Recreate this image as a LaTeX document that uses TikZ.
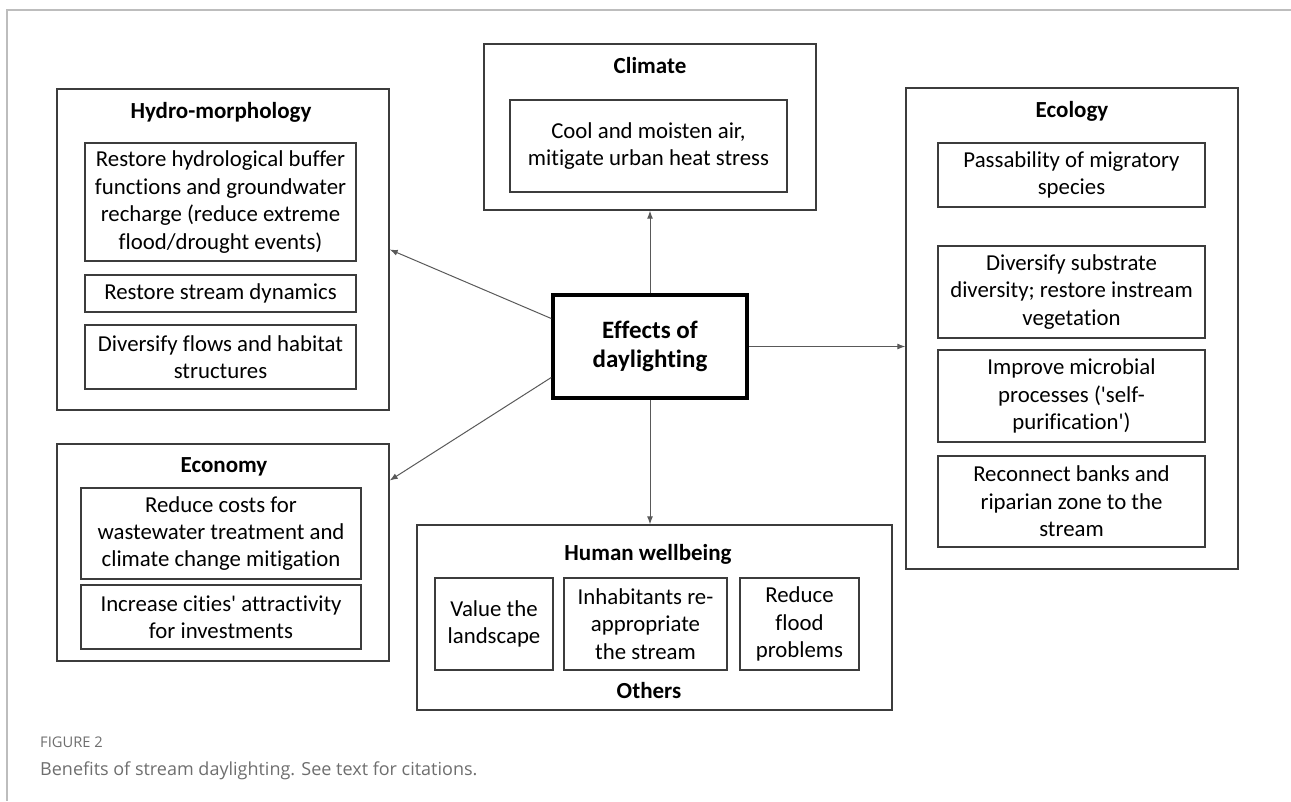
\documentclass[tikz,border=0pt]{standalone}
\usepackage{fontspec}
\setmainfont{Carlito}[Ligatures={TeXOff,NoCommon}]
\newfontfamily\captionfont{Open Sans}
\usetikzlibrary{arrows.meta}
\definecolor{linegray}{HTML}{3C3C3C}
\definecolor{framegray}{HTML}{BDBDBD}
\definecolor{captiongray}{HTML}{6E6E6E}

\begin{document}
\begin{tikzpicture}[x=1pt, y=-1pt,
    group/.style = {draw=linegray, line width=1.4pt},
    item/.style = {draw=linegray, line width=1.2pt, align=center, inner sep=0pt,
                   font=\fontsize{22.8}{27.4}\selectfont},
    head/.style = {anchor=base, inner sep=0pt, font=\fontsize{23}{27.4}\selectfont\bfseries},
    link/.style = {draw=linegray!85, line width=1pt, -{Latex[length=8pt,width=6pt]}},
    capt/.style = {anchor=base west, inner sep=0pt, text=captiongray}]
    \useasboundingbox (0,0) rectangle (1291,801);
    \draw[framegray, line width=1.3pt] (1291,10) -- (7,10) -- (7,801);

    \node[group, minimum width=332pt, minimum height=166pt] (climate) at (650,127) {};
    \node[head] (climatetitle) at (650,73) {Climate};
    \node[item, minimum width=277pt, minimum height=92pt] (climate1) at (648.5,146) {Cool and moisten air,\\mitigate urban heat stress};

    \node[group, minimum width=332pt, minimum height=321pt] (hydro) at (223,249.5) {};
    \node[head] (hydrotitle) at (221,118) {Hydro-morphology};
    \node[item, minimum width=271pt, minimum height=118pt] (hydro1) at (220.5,202) {Restore hydrological buffer\\functions and groundwater\\recharge (reduce extreme\\flood/drought events)};
    \node[item, minimum width=271pt, minimum height=37pt] (hydro2) at (220.5,293.5) {Restore stream dynamics};
    \node[item, minimum width=271pt, minimum height=64pt] (hydro3) at (220.5,357) {Diversify flows and habitat\\structures};

    \node[group, minimum width=332pt, minimum height=217pt] (economy) at (223,552.5) {};
    \node[head] (economytitle) at (224,472) {Economy};
    \node[item, minimum width=280pt, minimum height=91pt] (economy1) at (221,533.5) {Reduce costs for\\wastewater treatment and\\climate change mitigation};
    \node[item, minimum width=280pt, minimum height=64pt] (economy2) at (221,617) {Increase cities' attractivity\\for investments};

    \node[group, minimum width=332pt, minimum height=481pt] (ecology) at (1072,328.5) {};
    \node[head] (ecologytitle) at (1072,117) {Ecology};
    \node[item, minimum width=267pt, minimum height=64pt] (ecology1) at (1071.5,175) {Passability of migratory\\species};
    \node[item, minimum width=267pt, minimum height=92pt] (ecology2) at (1071.5,292) {Diversify substrate\\diversity; restore instream\\vegetation};
    \node[item, minimum width=267pt, minimum height=92pt] (ecology3) at (1071.5,396) {Improve microbial\\processes ('self-\\purification')};
    \node[item, minimum width=267pt, minimum height=91pt] (ecology4) at (1071.5,501.5) {Reconnect banks and\\riparian zone to the\\stream};

    \node[group, minimum width=475pt, minimum height=185pt] (human) at (654.5,617.5) {};
    \node[head] (humantitle) at (648,560) {Human wellbeing};
    \node[item, minimum width=118pt, minimum height=92pt] (human1) at (494,624) {Value the\\landscape};
    \node[item, minimum width=163pt, minimum height=92pt] (human2) at (645.5,624) {Inhabitants re-\\appropriate\\the stream};
    \node[item, minimum width=119pt, minimum height=92pt] (human3) at (799.5,624) {Reduce\\flood\\problems};
    \node[head] (others) at (649,698) {Others};

    \node[draw=black, line width=3.5pt, minimum width=194pt, minimum height=103pt, align=center,
          font=\fontsize{25}{29}\selectfont\bfseries] (effects) at (650,346.5) {Effects of\\daylighting};

    \draw[link] (effects.north) -- (climate.south);
    \draw[link] (effects.east) -- (effects.east -| ecology.west);
    \draw[link] (effects.south) -- (effects.south |- human.north);
    \draw[link] ([yshift=28pt]effects.west) -- (hydro.east);
    \draw[link] ([yshift=-31pt]effects.west) -- ([yshift=72pt]economy.east);

    \node[capt, font=\captionfont\fontsize{14.7}{17}\selectfont] (fignum) at (40,747) {FIGURE 2};
    \node[capt, font=\captionfont\fontsize{18}{22}\selectfont] (figtext) at (40,775) {Benefits of stream daylighting. See text for citations.};
\end{tikzpicture}
\end{document}
